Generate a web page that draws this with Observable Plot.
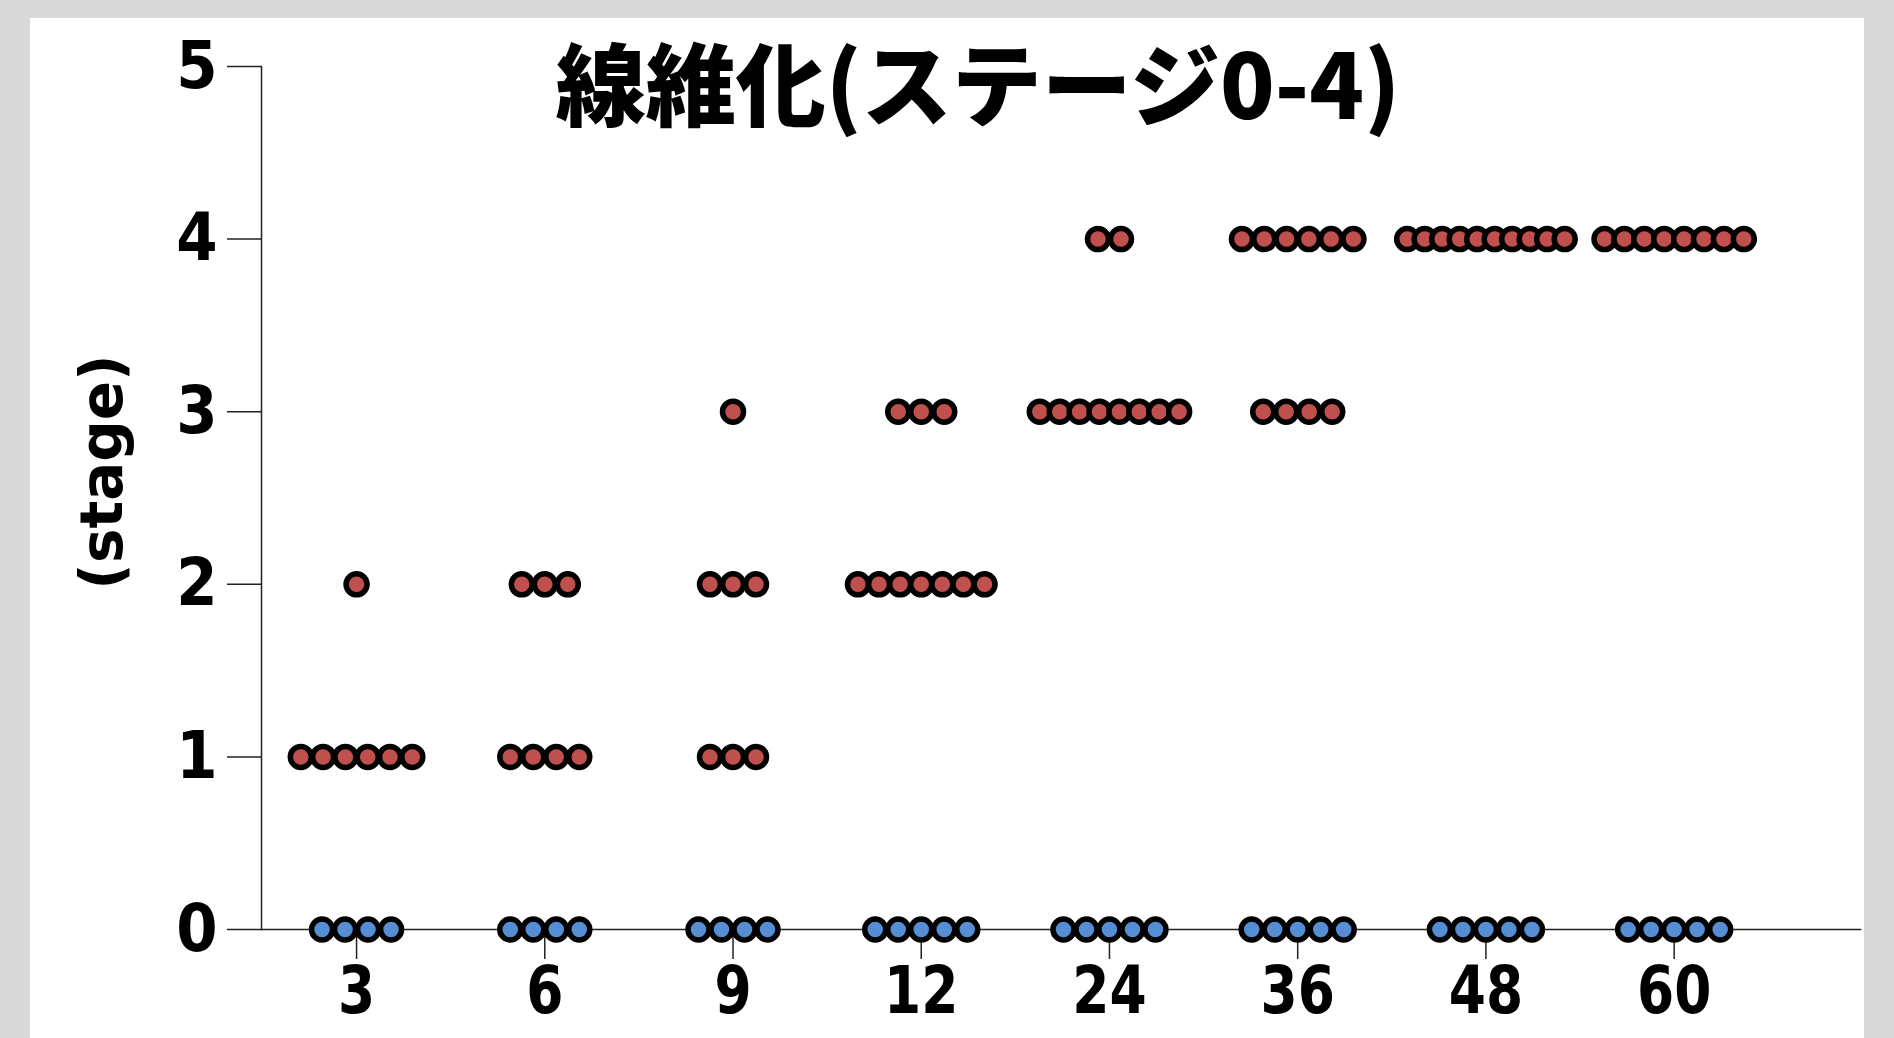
<!DOCTYPE html>
<html>
<head>
<meta charset="utf-8">
<script src="https://cdn.jsdelivr.net/npm/d3@7"></script>
<script src="https://cdn.jsdelivr.net/npm/@observablehq/plot@0.6"></script>
<style>
  html, body { margin: 0; padding: 0; background: #d9d9d9; width: 1894px; height: 1038px; overflow: hidden; }
  #panel { position: absolute; left: 30px; top: 18px; width: 1834px; height: 1020px; background: #ffffff; }
  #chart { position: absolute; left: 0; top: 0; }
</style>
</head>
<body>
<div id="panel"></div>
<div id="chart"></div>
<script>
// ---- data ----
const months = [3, 6, 9, 12, 24, 36, 48, 60];
const stage0 = [4, 4, 4, 5, 5, 5, 5, 5];   // blue (control)
const stage1 = [6, 4, 3, 0, 0, 0, 0, 0];
const stage2 = [1, 3, 3, 7, 0, 0, 0, 0];
const stage3 = [0, 0, 1, 3, 8, 4, 0, 0];
const stage4 = [0, 0, 0, 0, 2, 6, 10, 8];
const yTicks = [0, 1, 2, 3, 4, 5];
const titleText = "線維化(ステージ0-4)";
const yLabelText = "(stage)";

// ---- layout ----
const W = 1894, H = 1038;
const mL = 261, mR = 34, mT = 66, mB = 109;
const xDomain = [-0.505, 7.99];
const ppu = (W - mL - mR) / (xDomain[1] - xDomain[0]);
const spacing = n => (n <= 5 ? 23 : 23.5 - 1.2 * (n - 5)); // px between dots in a row

const stageCounts = [stage0, stage1, stage2, stage3, stage4];
const dots = [];
months.forEach((m, i) => {
  stageCounts.forEach((arr, s) => {
    const n = arr[i];
    for (let j = 0; j < n; j++) {
      dots.push({x: i + (j - (n - 1) / 2) * spacing(n) / ppu, y: s, group: s === 0 ? "ctrl" : "treated"});
    }
  });
});

const numFont = "'Liberation Sans Narrow', 'DejaVu Sans Condensed', 'Liberation Sans', sans-serif";

const chart = Plot.plot({
  width: W,
  height: H,
  marginLeft: mL, marginRight: mR, marginTop: mT, marginBottom: mB,
  style: {background: "transparent", color: "#000", overflow: "visible"},
  x: {type: "linear", domain: xDomain, axis: null},
  y: {domain: [0, 5], axis: null},
  color: {domain: ["ctrl", "treated"], range: ["#558ed5", "#c0504d"]},
  marks: [
    Plot.frame({anchor: "left", stroke: "#222", strokeWidth: 1.5}),
    Plot.frame({anchor: "bottom", stroke: "#222", strokeWidth: 1.5}),
    Plot.axisY(yTicks, {anchor: "left", tickSize: 34, tickPadding: 10, tickFormat: d3.format("d"), fontSize: 66, fontWeight: "bold", fontFamily: numFont, stroke: "#222", strokeWidth: 1.5, label: null}),
    Plot.axisX(d3.range(months.length), {anchor: "bottom", tickSize: 30, tickPadding: 7, tickFormat: i => months[i], fontSize: 66, fontWeight: "bold", fontFamily: numFont, stroke: "#222", strokeWidth: 1.5, label: null}),
    Plot.dot(dots, {x: "x", y: "y", r: 10.5, fill: "group", stroke: "#000", strokeWidth: 5.5}),
    Plot.text([titleText], {frameAnchor: "top", dx: -83, dy: 24, text: d => d, fontSize: 90, fontWeight: 900, fontFamily: "'Noto Sans CJK JP', sans-serif", lineAnchor: "middle", fill: "#000"}),
    Plot.text([yLabelText], {frameAnchor: "left", textAnchor: "middle", dx: -158, dy: -26, rotate: -90, text: d => d, fontSize: 58, fontWeight: "bold", fontFamily: "'DejaVu Sans', sans-serif", lineAnchor: "middle", fill: "#000"})
  ]
});
// condense the two-digit x tick labels slightly, like the reference's narrow numerals
d3.select(chart).selectAll('g[aria-label="x-axis tick label"] text').each(function() {
  const t = this.getAttribute("transform") || "";
  this.setAttribute("transform", t + " scale(0.9,1)");
});
document.getElementById("chart").appendChild(chart);
</script>
</body>
</html>
